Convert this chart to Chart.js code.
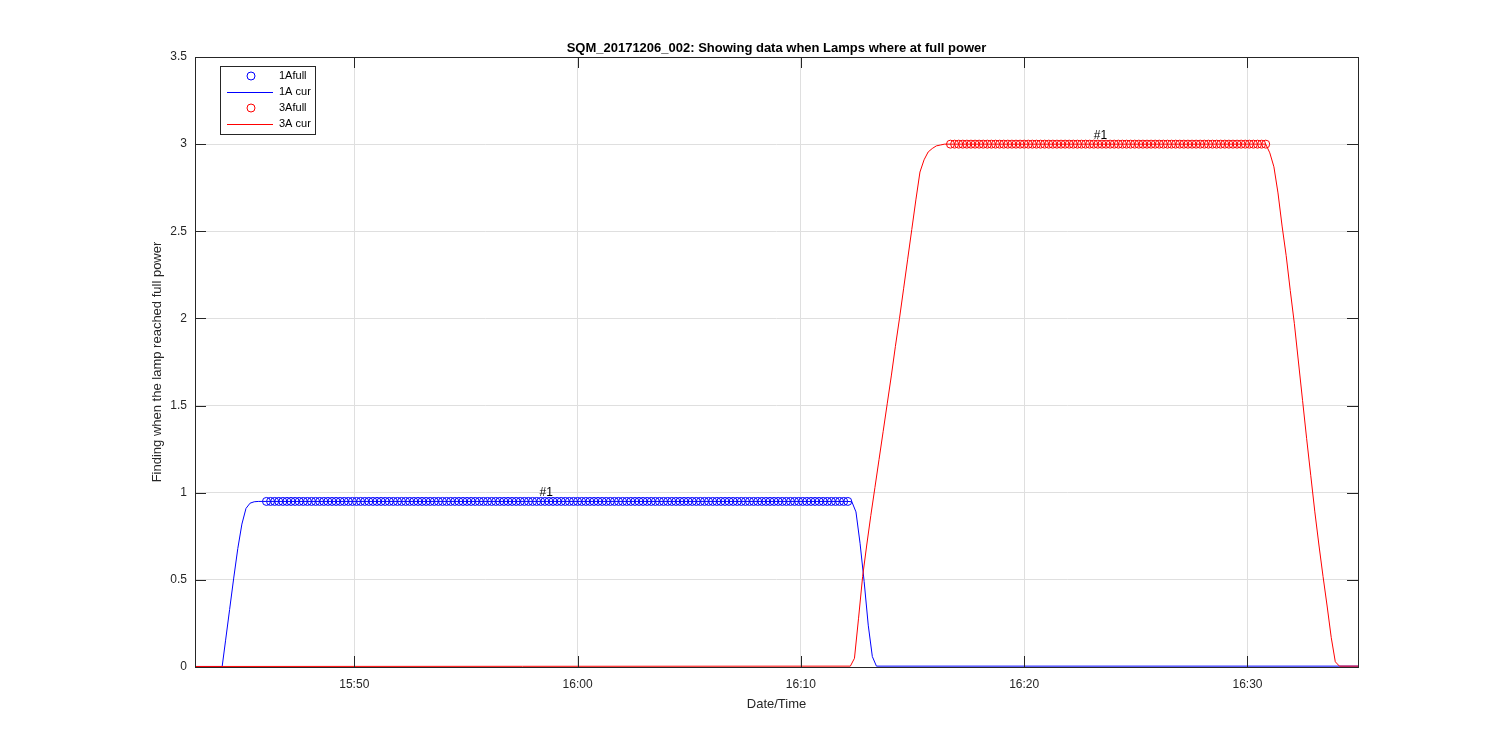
<!DOCTYPE html>
<html>
<head>
<meta charset="utf-8">
<title>SQM_20171206_002</title>
<script src="https://cdn.jsdelivr.net/npm/chart.js@4.4.0/dist/chart.umd.min.js"></script>
<style>
    body { margin: 0; background: #ffffff; }
    #wrap { width: 1500px; height: 750px; }
</style>
</head>
<body>
<div id="wrap"><canvas id="lampChart" width="1500" height="750"></canvas></div>
<script>
// Axis range and ticks
var xRange = ['15:42:52', '16:34:57'];
var xTickLabels = ['15:50', '16:00', '16:10', '16:20', '16:30'];
var yTickValues = [0, 0.5, 1, 1.5, 2, 2.5, 3, 3.5];

// 1A: samples where the lamp was at full power
var fullTimes1A = [
    '15:46:04', '15:46:15', '15:46:26', '15:46:37', '15:46:48', '15:46:59', '15:47:10', '15:47:21', '15:47:32', '15:47:43',
    '15:47:54', '15:48:05', '15:48:16', '15:48:27', '15:48:38', '15:48:49', '15:49:00', '15:49:11', '15:49:22', '15:49:33',
    '15:49:44', '15:49:55', '15:50:06', '15:50:17', '15:50:28', '15:50:39', '15:50:50', '15:51:01', '15:51:12', '15:51:23',
    '15:51:34', '15:51:45', '15:51:56', '15:52:07', '15:52:18', '15:52:29', '15:52:40', '15:52:51', '15:53:02', '15:53:13',
    '15:53:24', '15:53:35', '15:53:46', '15:53:57', '15:54:08', '15:54:19', '15:54:30', '15:54:41', '15:54:52', '15:55:03',
    '15:55:14', '15:55:25', '15:55:36', '15:55:47', '15:55:58', '15:56:09', '15:56:20', '15:56:31', '15:56:42', '15:56:53',
    '15:57:04', '15:57:15', '15:57:26', '15:57:37', '15:57:48', '15:57:59', '15:58:10', '15:58:21', '15:58:32', '15:58:43',
    '15:58:54', '15:59:05', '15:59:16', '15:59:27', '15:59:38', '15:59:49', '16:00:00', '16:00:11', '16:00:22', '16:00:33',
    '16:00:44', '16:00:55', '16:01:06', '16:01:17', '16:01:28', '16:01:39', '16:01:50', '16:02:01', '16:02:12', '16:02:23',
    '16:02:34', '16:02:45', '16:02:56', '16:03:07', '16:03:18', '16:03:29', '16:03:40', '16:03:51', '16:04:02', '16:04:13',
    '16:04:24', '16:04:35', '16:04:46', '16:04:57', '16:05:08', '16:05:19', '16:05:30', '16:05:41', '16:05:52', '16:06:03',
    '16:06:14', '16:06:25', '16:06:36', '16:06:47', '16:06:58', '16:07:09', '16:07:20', '16:07:31', '16:07:42', '16:07:53',
    '16:08:04', '16:08:15', '16:08:26', '16:08:37', '16:08:48', '16:08:59', '16:09:10', '16:09:21', '16:09:32', '16:09:43',
    '16:09:54', '16:10:05', '16:10:16', '16:10:27', '16:10:38', '16:10:49', '16:11:00', '16:11:11', '16:11:22', '16:11:33',
    '16:11:44', '16:11:55', '16:12:06'
];
var fullValues1A = [
    0.95, 0.95, 0.95, 0.95, 0.95, 0.95, 0.95, 0.95, 0.95, 0.95,
    0.95, 0.95, 0.95, 0.95, 0.95, 0.95, 0.95, 0.95, 0.95, 0.95,
    0.95, 0.95, 0.95, 0.95, 0.95, 0.95, 0.95, 0.95, 0.95, 0.95,
    0.95, 0.95, 0.95, 0.95, 0.95, 0.95, 0.95, 0.95, 0.95, 0.95,
    0.95, 0.95, 0.95, 0.95, 0.95, 0.95, 0.95, 0.95, 0.95, 0.95,
    0.95, 0.95, 0.95, 0.95, 0.95, 0.95, 0.95, 0.95, 0.95, 0.95,
    0.95, 0.95, 0.95, 0.95, 0.95, 0.95, 0.95, 0.95, 0.95, 0.95,
    0.95, 0.95, 0.95, 0.95, 0.95, 0.95, 0.95, 0.95, 0.95, 0.95,
    0.95, 0.95, 0.95, 0.95, 0.95, 0.95, 0.95, 0.95, 0.95, 0.95,
    0.95, 0.95, 0.95, 0.95, 0.95, 0.95, 0.95, 0.95, 0.95, 0.95,
    0.95, 0.95, 0.95, 0.95, 0.95, 0.95, 0.95, 0.95, 0.95, 0.95,
    0.95, 0.95, 0.95, 0.95, 0.95, 0.95, 0.95, 0.95, 0.95, 0.95,
    0.95, 0.95, 0.95, 0.95, 0.95, 0.95, 0.95, 0.95, 0.95, 0.95,
    0.95, 0.95, 0.95, 0.95, 0.95, 0.95, 0.95, 0.95, 0.95, 0.95,
    0.95, 0.95, 0.95
];

// 1A: current curve
var curTimes1A = [
    '15:42:52', '15:44:05', '15:44:14', '15:44:25', '15:44:36', '15:44:47', '15:44:58', '15:45:09', '15:45:20', '15:45:31',
    '15:45:42', '15:45:53', '15:46:04', '16:12:06', '16:12:17', '16:12:28', '16:12:39', '16:12:50', '16:13:01', '16:13:12',
    '16:13:23', '16:34:57'
];
var curValues1A = [
    0.003, 0.003, 0.15, 0.33, 0.51, 0.68, 0.82, 0.91, 0.94, 0.948,
    0.95, 0.95, 0.95, 0.95, 0.948, 0.89, 0.71, 0.49, 0.24, 0.06,
    0.005, 0.005
];

// 3A: samples where the lamp was at full power
var fullTimes3A = [
    '16:16:42', '16:16:53', '16:17:04', '16:17:15', '16:17:26', '16:17:37', '16:17:48', '16:17:59', '16:18:10', '16:18:21',
    '16:18:32', '16:18:43', '16:18:54', '16:19:05', '16:19:16', '16:19:27', '16:19:38', '16:19:49', '16:20:00', '16:20:11',
    '16:20:22', '16:20:33', '16:20:44', '16:20:55', '16:21:06', '16:21:17', '16:21:28', '16:21:39', '16:21:50', '16:22:01',
    '16:22:12', '16:22:23', '16:22:34', '16:22:45', '16:22:56', '16:23:07', '16:23:18', '16:23:29', '16:23:40', '16:23:51',
    '16:24:02', '16:24:13', '16:24:24', '16:24:35', '16:24:46', '16:24:57', '16:25:08', '16:25:19', '16:25:30', '16:25:41',
    '16:25:52', '16:26:03', '16:26:14', '16:26:25', '16:26:36', '16:26:47', '16:26:58', '16:27:09', '16:27:20', '16:27:31',
    '16:27:42', '16:27:53', '16:28:04', '16:28:15', '16:28:26', '16:28:37', '16:28:48', '16:28:59', '16:29:10', '16:29:21',
    '16:29:32', '16:29:43', '16:29:54', '16:30:05', '16:30:16', '16:30:27', '16:30:38', '16:30:49'
];
var fullValues3A = [
    3, 3, 3, 3, 3, 3, 3, 3, 3, 3,
    3, 3, 3, 3, 3, 3, 3, 3, 3, 3,
    3, 3, 3, 3, 3, 3, 3, 3, 3, 3,
    3, 3, 3, 3, 3, 3, 3, 3, 3, 3,
    3, 3, 3, 3, 3, 3, 3, 3, 3, 3,
    3, 3, 3, 3, 3, 3, 3, 3, 3, 3,
    3, 3, 3, 3, 3, 3, 3, 3, 3, 3,
    3, 3, 3, 3, 3, 3, 3, 3
];

// 3A: current curve
var curTimes3A = [
    '15:42:52', '16:12:13', '16:12:24', '16:12:35', '16:12:46', '16:12:57', '16:13:08', '16:13:19', '16:13:30', '16:13:41',
    '16:13:52', '16:14:03', '16:14:14', '16:14:25', '16:14:36', '16:14:47', '16:14:58', '16:15:09', '16:15:20', '16:15:31',
    '16:15:42', '16:15:53', '16:16:04', '16:16:15', '16:16:26', '16:16:42', '16:30:49', '16:31:00', '16:31:11', '16:31:22',
    '16:31:33', '16:31:44', '16:31:55', '16:32:06', '16:32:17', '16:32:28', '16:32:39', '16:32:50', '16:33:01', '16:33:12',
    '16:33:23', '16:33:34', '16:33:45', '16:33:56', '16:34:07', '16:34:57'
];
var curValues3A = [
    0.003, 0.005, 0.05, 0.28, 0.52, 0.70, 0.87, 1.03, 1.19, 1.35,
    1.51, 1.67, 1.84, 2.00, 2.17, 2.34, 2.51, 2.68, 2.84, 2.91,
    2.955, 2.975, 2.99, 2.995, 3, 3, 3, 2.95, 2.87, 2.72,
    2.53, 2.36, 2.16, 1.97, 1.75, 1.53, 1.31, 1.10, 0.89, 0.70,
    0.52, 0.35, 0.17, 0.03, 0.005, 0.005
];

// Text labels inside the axes
var noteTimes = ['15:58:18', '16:23:07'];
var noteValues = [1.0, 3.05];
var noteTexts = ['#1', '#1'];

var legendNames = ['1Afull', '1A cur', '3Afull', '3A cur'];
var seriesColors = ['#0000ff', '#0000ff', '#ff0000', '#ff0000'];

var FONT = '"Liberation Sans", Arial, Helvetica, sans-serif';
var AXIS_COLOR = '#262626';

// minutes after 15:00
function toMinutes(hora) {
    var p = hora.split(':');
    var m = (parseInt(p[0], 10) - 15) * 60 + parseInt(p[1], 10);
    if (p.length > 2) {
        m += parseInt(p[2], 10) / 60;
    }
    return m;
}

function toPoints(horas, valores) {
    var out = [];
    for (var i = 0; i < horas.length; i++) {
        out.push({ x: toMinutes(horas[i]), y: valores[i] });
    }
    return out;
}

function minutesLabel(v) {
    var total = Math.round(v);
    var h = 15 + Math.floor(total / 60);
    var m = total % 60;
    return h + ':' + (m < 10 ? '0' + m : m);
}

// frame, inward ticks, titles, legend and notes
var matlabAxes = {
    id: 'matlabAxes',
    afterDraw: function (chart) {
        var ctx = chart.ctx;
        var a = chart.chartArea;
        var xs = chart.scales.x;
        var ys = chart.scales.y;
        var tick = 11;
        var i, px, py;
        ctx.save();

        // frame
        ctx.strokeStyle = AXIS_COLOR;
        ctx.lineWidth = 1;
        ctx.strokeRect(a.left + 0.5, a.top + 0.5, a.right - a.left, a.bottom - a.top);

        // tick marks inward
        ctx.beginPath();
        for (i = 0; i < xTickLabels.length; i++) {
            px = Math.round(xs.getPixelForValue(toMinutes(xTickLabels[i]))) + 0.5;
            ctx.moveTo(px, a.bottom);
            ctx.lineTo(px, a.bottom - tick);
            ctx.moveTo(px, a.top);
            ctx.lineTo(px, a.top + tick);
        }
        for (i = 0; i < yTickValues.length; i++) {
            py = Math.round(ys.getPixelForValue(yTickValues[i])) + 0.5;
            ctx.moveTo(a.left, py);
            ctx.lineTo(a.left + tick, py);
            ctx.moveTo(a.right, py);
            ctx.lineTo(a.right - tick, py);
        }
        ctx.stroke();

        // title
        var cx = (a.left + a.right) / 2;
        ctx.fillStyle = '#000000';
        ctx.textAlign = 'center';
        ctx.textBaseline = 'alphabetic';
        ctx.font = 'bold 13px ' + FONT;
        ctx.fillText('SQM_20171206_002: Showing data when Lamps where at full power', cx, 52);

        // axis labels
        ctx.fillStyle = AXIS_COLOR;
        ctx.font = '13px ' + FONT;
        ctx.fillText('Date/Time', cx, 708);
        ctx.save();
        ctx.translate(161, (a.top + a.bottom) / 2);
        ctx.rotate(-Math.PI / 2);
        ctx.fillText('Finding when the lamp reached full power', 0, 0);
        ctx.restore();

        // notes
        ctx.fillStyle = '#000000';
        ctx.font = '12px ' + FONT;
        ctx.textAlign = 'left';
        ctx.textBaseline = 'middle';
        for (i = 0; i < noteTexts.length; i++) {
            ctx.fillText(noteTexts[i], xs.getPixelForValue(toMinutes(noteTimes[i])), ys.getPixelForValue(noteValues[i]));
        }

        // legend
        var bx = 220, by = 66, bw = 95, bh = 68;
        ctx.fillStyle = '#ffffff';
        ctx.fillRect(bx, by, bw, bh);
        ctx.strokeStyle = AXIS_COLOR;
        ctx.strokeRect(bx + 0.5, by + 0.5, bw, bh);
        ctx.font = '11px ' + FONT;
        ctx.textBaseline = 'middle';
        for (i = 0; i < legendNames.length; i++) {
            var ly = 76 + i * 16;
            ctx.strokeStyle = seriesColors[i];
            ctx.beginPath();
            if (i % 2 === 0) {
                ctx.arc(251, ly, 4, 0, Math.PI * 2);
            } else {
                ctx.moveTo(227, ly + 0.5);
                ctx.lineTo(273, ly + 0.5);
            }
            ctx.stroke();
            ctx.fillStyle = '#000000';
            ctx.fillText(legendNames[i], 279, ly);
        }
        ctx.restore();
    }
};

var lampCanvas = document.getElementById('lampChart').getContext('2d');
new Chart(lampCanvas, {
    type: 'line',
    data: {
        datasets: [
            {
                label: legendNames[0],
                data: toPoints(fullTimes1A, fullValues1A),
                showLine: false,
                borderColor: seriesColors[0],
                backgroundColor: 'rgba(0,0,0,0)',
                pointStyle: 'circle',
                pointRadius: 4,
                pointBorderWidth: 1,
                order: 4
            },
            {
                label: legendNames[1],
                data: toPoints(curTimes1A, curValues1A),
                borderColor: seriesColors[1],
                borderWidth: 1,
                pointRadius: 0,
                tension: 0,
                order: 3
            },
            {
                label: legendNames[2],
                data: toPoints(fullTimes3A, fullValues3A),
                showLine: false,
                borderColor: seriesColors[2],
                backgroundColor: 'rgba(0,0,0,0)',
                pointStyle: 'circle',
                pointRadius: 4,
                pointBorderWidth: 1,
                order: 2
            },
            {
                label: legendNames[3],
                data: toPoints(curTimes3A, curValues3A),
                borderColor: seriesColors[3],
                borderWidth: 1,
                pointRadius: 0,
                tension: 0,
                order: 1
            }
        ]
    },
    options: {
        responsive: false,
        animation: false,
        devicePixelRatio: 1,
        layout: { padding: { left: 0, top: 57, right: 142, bottom: 0 } },
        plugins: {
            legend: { display: false },
            title: { display: false },
            tooltip: { enabled: false }
        },
        scales: {
            x: {
                type: 'linear',
                min: toMinutes(xRange[0]),
                max: toMinutes(xRange[1]),
                afterBuildTicks: function (scale) {
                    scale.ticks = xTickLabels.map(function (t) { return { value: toMinutes(t) }; });
                },
                afterFit: function (scale) { scale.height = 83; },
                grid: { color: '#dfdfdf', lineWidth: 1, drawTicks: false },
                border: { display: false },
                ticks: {
                    color: AXIS_COLOR,
                    padding: 10,
                    maxRotation: 0,
                    font: { family: FONT, size: 12 },
                    callback: function (v) { return minutesLabel(v); }
                }
            },
            y: {
                min: 0,
                max: 3.5,
                afterBuildTicks: function (scale) {
                    scale.ticks = yTickValues.map(function (v) { return { value: v }; });
                },
                afterFit: function (scale) { scale.width = 195; },
                grid: { color: '#dfdfdf', lineWidth: 1, drawTicks: false },
                border: { display: false },
                ticks: {
                    color: AXIS_COLOR,
                    padding: 8,
                    font: { family: FONT, size: 12 },
                    callback: function (v) { return String(v); }
                }
            }
        }
    },
    plugins: [matlabAxes]
});
</script>
</body>
</html>
